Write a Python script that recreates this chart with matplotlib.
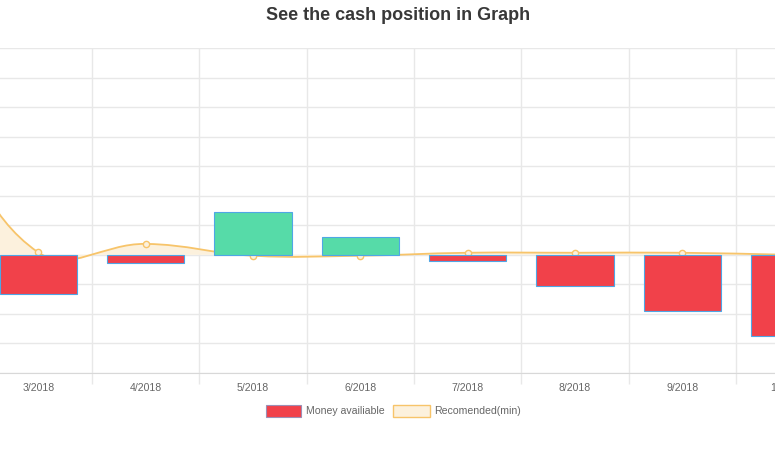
import numpy as np
from matplotlib import pyplot as plt
from matplotlib.path import Path
from matplotlib.patches import PathPatch, Rectangle

months = ['2/2018', '3/2018', '4/2018', '5/2018', '6/2018', '7/2018', '8/2018', '9/2018', '10/2018']
money = [-900, -660, -135, 730, 310, -100, -525, -945, -1375]
recommended = [2700, 40, 185, -15, -15, 35, 35, 35, 0]

red = '#f1414a'
green = '#56dba8'
border = '#4fa6e6'
line_c = '#f7c46a'
fill_c = '#fcf1dd'
grid_c = '#e8e8e8'
txt_c = '#666666'

plt.rcParams['font.family'] = ['Liberation Sans', 'DejaVu Sans']

fig = plt.figure(figsize=(7.75, 4.5), dpi=100)
W, H = 775.0, 450.0
# plot area: categories 107.33px apart, 3/2018 centred at x=38.3, y from 48 to 373
step = 107.33
left_px = 38.3 - 1.5 * step
right_px = 38.3 + 7.5 * step
ax = fig.add_axes([left_px / W, 1 - 373 / H, (right_px - left_px) / W, (373 - 48) / H])

x = np.arange(len(months))
ax.set_xlim(-0.5, len(months) - 0.5)
ax.set_ylim(-2000, 3500)

# grid
ax.set_yticks(np.arange(-2000, 3501, 500))
ax.set_xticks(x)
ax.set_xticks(x[:-1] + 0.5, minor=True)
ax.set_xticklabels(months, fontsize=7.6, color=txt_c)
ax.grid(axis='y', color=grid_c, lw=1, zorder=0)
ax.grid(axis='x', which='minor', color=grid_c, lw=1, zorder=0)
ax.tick_params(axis='x', which='major', length=0, pad=7)
ax.tick_params(axis='x', which='minor', length=8, color=grid_c, width=1)
ax.tick_params(axis='y', left=False, labelleft=False)
for s in ['top', 'left', 'right']:
    ax.spines[s].set_visible(False)
ax.spines['bottom'].set_color('#d8d8d8')
ax.set_axisbelow(True)


def spline(xs, ys, t=0.4):
    pts = ax.transData.transform(np.column_stack([xs, ys]))
    n = len(pts)
    cp_prev, cp_next = [], []
    for i in range(n):
        cur = pts[i]
        prev = pts[i - 1] if i > 0 else cur
        nxt = pts[i + 1] if i < n - 1 else cur
        d01 = np.hypot(*(cur - prev))
        d12 = np.hypot(*(nxt - cur))
        tot = d01 + d12
        fa = t * d01 / tot if tot else 0
        fb = t * d12 / tot if tot else 0
        cp_prev.append(cur - fa * (nxt - prev))
        cp_next.append(cur + fb * (nxt - prev))
    verts = [pts[0]]
    for i in range(n - 1):
        verts += [cp_next[i], cp_prev[i + 1], pts[i + 1]]
    return ax.transData.inverted().transform(np.array(verts))


verts = spline(x, recommended)
codes = [Path.MOVETO] + [Path.CURVE4] * (len(verts) - 1)

fill_verts = np.vstack([verts, [[x[-1], 0], [x[0], 0], [x[0], 0]]])
fill_codes = codes + [Path.LINETO, Path.LINETO, Path.CLOSEPOLY]
ax.add_patch(PathPatch(Path(fill_verts, fill_codes), facecolor=fill_c, edgecolor='none', zorder=1))
ax.add_patch(PathPatch(Path(verts, codes), facecolor='none', edgecolor=line_c, lw=1.3, zorder=2))
ax.plot(x, recommended, ls='none', marker='o', ms=4.5, mfc=fill_c, mec=line_c, mew=1, zorder=2)

colors = [green if v > 0 else red for v in money]
ax.bar(x, money, width=0.72, color=colors, edgecolor=border, linewidth=0.8, zorder=3)

fig.text(398 / W, 1 - 15.5 / H, 'See the cash position in Graph', ha='center', va='center',
         fontsize=13, fontweight='bold', color='#383838')

# legend
fig.patches.append(Rectangle((266 / W, 1 - 417 / H), 35 / W, 12 / H, transform=fig.transFigure,
                             facecolor=red, edgecolor='#9c8fb5', lw=0.8))
fig.text(306.5 / W, 1 - 411 / H, 'Money availiable', va='center', fontsize=7.6, color=txt_c)
fig.patches.append(Rectangle((393.5 / W, 1 - 417 / H), 36 / W, 12 / H, transform=fig.transFigure,
                             facecolor=fill_c, edgecolor=line_c, lw=1))
fig.text(434 / W, 1 - 411 / H, 'Recomended(min)', va='center', fontsize=7.6, color=txt_c)

fig.savefig('out.png', dpi=100)
